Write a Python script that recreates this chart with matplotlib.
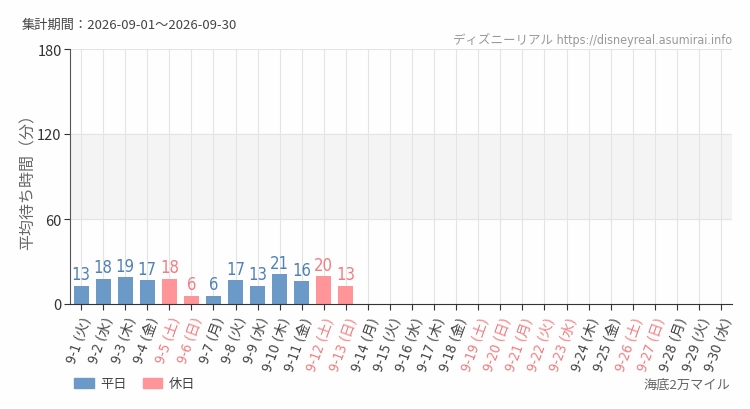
import numpy as np
import matplotlib.pyplot as plt
from matplotlib.patches import Patch

plt.rcParams['font.family'] = ['Noto Sans CJK JP', 'DejaVu Sans']

# data
days = list(range(1, 31))
weekdays = ['火', '水', '木', '金', '土', '日', '月'] * 5
weekdays = weekdays[:30]
holidays = [5, 6, 12, 13, 19, 20, 21, 22, 23, 26, 27]
waits = [13, 18, 19, 17, 18, 6, 6, 17, 13, 21, 16, 20, 13] + [None] * 17

labels = [f'9-{d} ({w})' for d, w in zip(days, weekdays)]

blue = '#6b9ac8'
pink = '#ff9599'
blue_txt = '#4f80b8'
pink_txt = '#f27c80'
bg = '#fdfefd'
narrow = ['DejaVu Sans', 'Noto Sans CJK JP']

fig = plt.figure(figsize=(7.5, 4.1), dpi=100, facecolor=bg)
ax = fig.add_axes([70 / 750, 1 - 305 / 410, 662 / 750, 255 / 410])
ax.set_facecolor(bg)

x = np.arange(len(days))
ax.axhspan(60, 120, color='#f4f4f4', zorder=0)
for v in (60, 120, 180):
    ax.axhline(v, color='#e4e4e4', lw=0.8, zorder=0.5)
for xi in x:
    ax.axvline(xi, color='#e4e4e4', lw=0.8, zorder=0.5)

for xi, d, v in zip(x, days, waits):
    if v is None:
        continue
    hol = d in holidays
    ax.bar(xi, v, width=0.68, color=pink if hol else blue, zorder=2)
    ax.text(xi, v + 1.5, str(v), ha='center', va='bottom', fontsize=12,
            color=pink_txt if hol else blue_txt, family='DejaVu Sans',
            fontstretch='condensed', zorder=3)

ax.set_xlim(-0.5, len(days) - 0.5)
ax.set_ylim(0, 180)
ax.set_yticks([0, 60, 120, 180])
ax.tick_params(axis='y', labelsize=10.5, colors='#333333', length=4, pad=2)
ax.set_xticks(x)
ax.set_xticklabels(labels, rotation=70, ha='right', rotation_mode='anchor', fontsize=10,
                   family=narrow, fontstretch='condensed')
for lab, d in zip(ax.get_xticklabels(), days):
    lab.set_color(pink_txt if d in holidays else '#444444')
ax.tick_params(axis='x', length=4, color='#333333', pad=4)
for s in ('top', 'right'):
    ax.spines[s].set_visible(False)
ax.spines['left'].set_color('#555555')
ax.spines['bottom'].set_color('#333333')

ax.set_ylabel('平均待ち時間（分）', fontsize=11.5, color='#666666')
ax.yaxis.set_label_coords((37 - 70) / 662, 0.5)

fig.text(22 / 750, 1 - 25 / 410, '集計期間：2026-09-01～2026-09-30', fontsize=9.5,
         color='#444444', va='center')
fig.text(732 / 750, 1 - 40 / 410, 'ディズニーリアル https://disneyreal.asumirai.info',
         fontsize=9, color='#999999', ha='right', va='center', family=narrow,
         fontstretch='condensed')
fig.text(730 / 750, 1 - 385 / 410, '海底2万マイル', fontsize=9.5, color='#666666',
         ha='right', va='center')

handles = [Patch(color=blue, label='平日'), Patch(color=pink, label='休日')]
fig.legend(handles=handles, loc='center left', bbox_to_anchor=(62 / 750, 1 - 385 / 410),
           ncol=2, frameon=False, fontsize=9.5, handlelength=1.5, handleheight=0.8,
           columnspacing=1.2, handletextpad=0.5, labelcolor='#444444')

fig.savefig('out.png', dpi=100, facecolor=bg)
